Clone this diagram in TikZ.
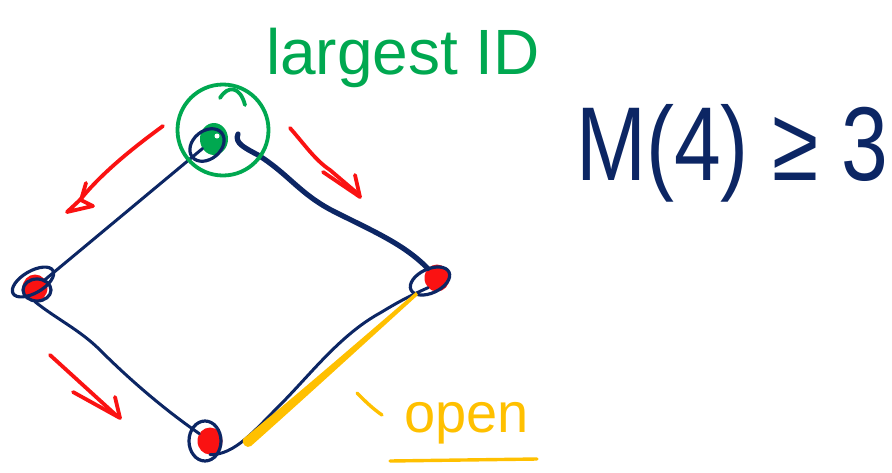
\documentclass[tikz,border=0pt]{standalone}
\usepackage{fontspec}
\setmainfont{Liberation Sans}
\usetikzlibrary{shapes.geometric}
\definecolor{inkNavy}{RGB}{12,38,100}
\definecolor{inkRed}{RGB}{250,18,18}
\definecolor{inkGreen}{RGB}{0,168,80}
\definecolor{inkYellow}{RGB}{255,192,0}
\begin{document}
\begin{tikzpicture}[x=1pt,y=-1pt, line cap=round, line join=round,
  vtx/.style={ellipse, inner sep=0pt, minimum width=25pt, minimum height=27pt, fill=inkRed},
  ring/.style={draw=inkNavy, line width=3.2pt},
  edgethin/.style={draw=inkNavy, line width=3pt},
  edgethick/.style={draw=inkNavy, line width=5.2pt},
  redarrow/.style={draw=inkRed, line width=3.8pt},
  greenpen/.style={draw=inkGreen, line width=3.8pt},
  yellowpen/.style={draw=inkYellow, line width=3.4pt}]
\useasboundingbox (0,0) rectangle (892,472);

% vertices of the ring
\node[vtx, fill=inkGreen, minimum width=28pt, minimum height=32pt] (top) at (214,139) {};
\node[vtx] (left) at (35,288) {};
\node[vtx] (bottom) at (210,441) {};
\node[vtx] (right) at (437,278) {};
\fill[white] (217,136) circle (2.5pt);

% scribbled loops around the vertices
\draw[ring, rotate around={40:(207,145)}] (207,145) ellipse [x radius=19pt, y radius=14pt];
\draw[ring, rotate around={30:(33,282)}] (33,282) ellipse [x radius=23pt, y radius=11pt];
\draw[ring] (37,290) ellipse [x radius=14pt, y radius=11pt];
\draw[ring] (205,441) ellipse [x radius=16pt, y radius=20pt];
\draw[ring, rotate around={25:(430,281)}] (430,281) ellipse [x radius=21pt, y radius=12pt];

% edges
\coordinate (hook) at (238,134);
\draw[edgethin] (top) -- (left);
\draw[edgethick] (hook) .. controls (234,143) and (245,148) .. (258,155)
  .. controls (290,175) and (300,195) .. (337,213)
  .. controls (375,232) and (405,245) .. (right);
\draw[edgethin] (left.south) .. controls (55,318) and (80,330) .. (100,350)
  .. controls (130,380) and (165,410) .. (bottom);
\draw[edgethin] (bottom.south) .. controls (235,455) and (255,430) .. (280,405)
  .. controls (310,375) and (340,335) .. (380,313)
  .. controls (395,304) and (405,298) .. (right.south west);

% yellow highlight along the open edge
\fill[inkYellow] (243,439) .. controls (300,392) and (360,340) .. (416,292)
  -- (418,295) .. controls (365,343) and (305,398) .. (251,446)
  .. controls (247,449) and (241,444) .. cycle;

% largest ID marker
\draw[greenpen] (223,130) circle (45.5pt);
\draw[greenpen] (220,98) .. controls (228,85) and (240,86) .. (245,105);
\node[anchor=base west, text=inkGreen, inner sep=0pt,
  font=\fontsize{64}{64}\selectfont] (lbl) at (266,74) {largest ID};

% red direction arrows
\draw[redarrow] (163,126) .. controls (130,150) and (100,175) .. (80,200);
\draw[redarrow] (86,183) -- (81,200) -- (93,206) -- (67,212) -- (82,198);
\draw[redarrow] (290,128) .. controls (305,145) and (315,160) .. (330,170) -- (357,193);
\draw[redarrow] (323,172) -- (360,197) -- (355,175);
\draw[redarrow] (50,355) -- (117,416);
\draw[redarrow] (73,392) -- (120,418) -- (115,397);

% bound
\node[anchor=base west, text=inkNavy, inner sep=0pt] (bound) at (576,180)
  {\scalebox{0.8}[1]{\fontsize{105}{105}\selectfont M(4) ≥ 3}};

% open label
\draw[yellowpen] (357,393) .. controls (366,402) and (372,408) .. (382,415);
\node[anchor=base west, text=inkYellow, inner sep=0pt,
  font=\fontsize{56}{56}\selectfont] (open) at (404,432) {open};
\draw[yellowpen] (390,461) -- (537,459);
\end{tikzpicture}
\end{document}
